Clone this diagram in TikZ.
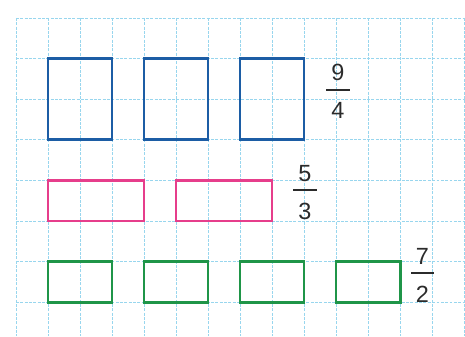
\documentclass[tikz,border=0pt]{standalone}
\usepackage{fontspec}
\setmainfont{Liberation Sans}
\usetikzlibrary{positioning}
\definecolor{gridblue}{HTML}{98D6EE}
\definecolor{boxblue}{HTML}{1C5DA5}
\definecolor{boxpink}{HTML}{E63E8B}
\definecolor{boxgreen}{HTML}{1F9548}
\definecolor{ink}{HTML}{2B2B2B}

\begin{document}
\begin{tikzpicture}[
  x=0.96cm, y=1.218cm,
  gridline/.style={draw=gridblue, line width=0.6pt, dash pattern=on 2.5pt off 1.2pt},
  box/.style={rectangle, inner sep=0pt, outer sep=0pt, line width=2.5pt},
  bluebox/.style={box, draw=boxblue, minimum width=1.92cm, minimum height=2.436cm},
  pinkbox/.style={box, draw=boxpink, line width=2.1pt, minimum width=2.88cm, minimum height=1.218cm},
  greenbox/.style={box, draw=boxgreen, minimum width=1.92cm, minimum height=1.218cm},
  fracbar/.style={fill=ink, inner sep=0pt, minimum width=0.7cm, minimum height=1.5pt},
  digit/.style={inner sep=0pt, text=ink, font=\fontsize{20}{24}\selectfont},
]
\useasboundingbox (-0.5,0.443) rectangle (14.03,-7.833);

% Squared paper
\foreach \x in {0,...,14}
  \draw[gridline] (\x,0) -- (\x,-7.833);
\foreach \y in {0,...,7}
  \draw[gridline] (0,-\y) -- (14.03,-\y);

% Row 1 — 9/4
\node[bluebox] (blue1) at (2,-2) {};
\node[bluebox, right=0.96cm of blue1] (blue2) {};
\node[bluebox, right=0.96cm of blue2] (blue3) {};
\node[fracbar] (bar1) at (10.06,-1.77) {};
\node[digit, above=0.22cm of bar1] (num1) {9};
\node[digit, below=0.34cm of bar1] (den1) {4};

% Row 2 — 5/3
\node[pinkbox] (pink1) at (2.5,-4.5) {};
\node[pinkbox, right=0.96cm of pink1] (pink2) {};
\node[fracbar] (bar2) at (9.03,-4.24) {};
\node[digit, above=0.22cm of bar2] (num2) {5};
\node[digit, below=0.34cm of bar2] (den2) {3};

% Row 3 — 7/2
\node[greenbox] (green1) at (2,-6.5) {};
\node[greenbox, right=0.96cm of green1] (green2) {};
\node[greenbox, right=0.96cm of green2] (green3) {};
\node[greenbox, right=0.96cm of green3] (green4) {};
\node[fracbar] (bar3) at (12.7,-6.28) {};
\node[digit, above=0.22cm of bar3] (num3) {7};
\node[digit, below=0.34cm of bar3] (den3) {2};

\end{tikzpicture}
\end{document}
